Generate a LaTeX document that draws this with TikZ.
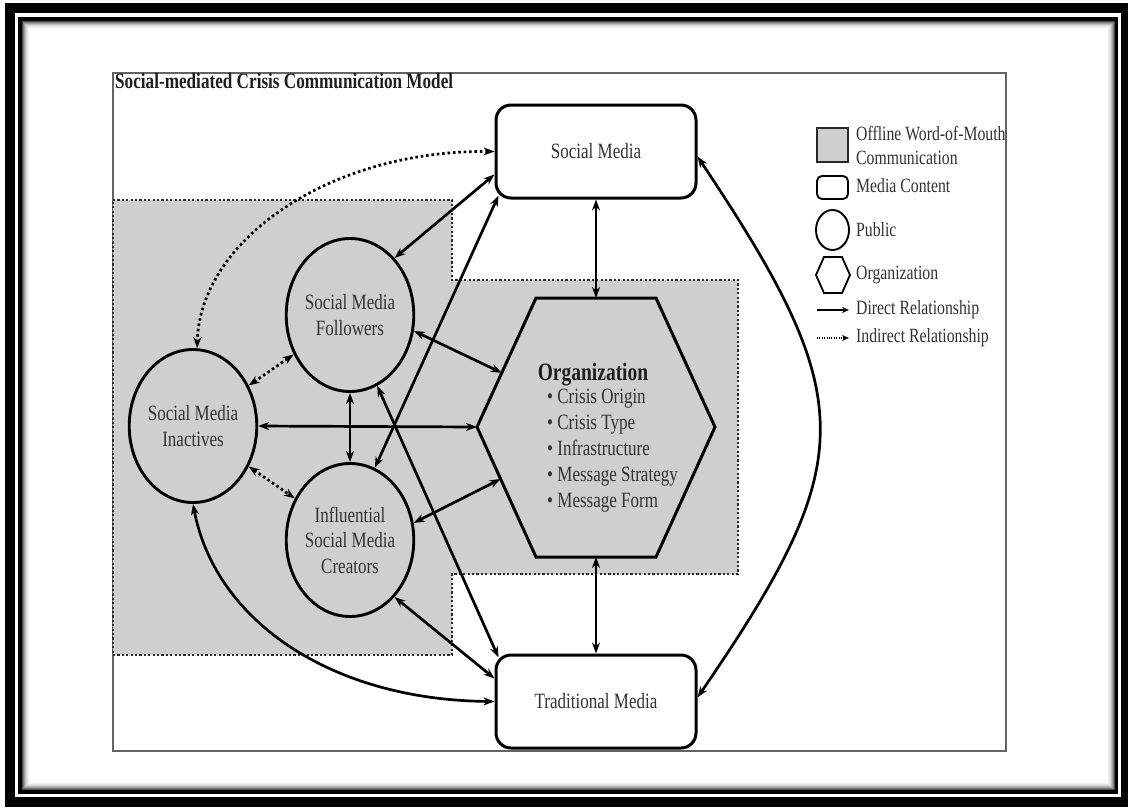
\documentclass[tikz,border=0pt]{standalone}
\usepackage{fontspec}
\setmainfont{Liberation Serif}[FakeStretch=0.78]
\usetikzlibrary{arrows.meta,calc,shapes.geometric}
\definecolor{offgray}{RGB}{207,207,207}
\definecolor{txt}{RGB}{50,50,50}
\definecolor{dark}{RGB}{30,30,30}
\definecolor{framegray}{RGB}{100,100,100}
\definecolor{dotgray}{RGB}{40,40,40}
\tikzset{
  mediabox/.style={draw, line width=3pt, rounded corners=15pt, minimum width=200pt,
    minimum height=93pt, fill=white, font=\fontsize{21.8}{25}\selectfont, text=txt},
  public/.style={draw, ellipse, line width=2.9pt, minimum width=122pt, minimum height=153pt,
    inner sep=0pt, align=center, font=\fontsize{21.8}{25.5}\selectfont, text=txt},
  rel/.style={line width=2.7pt, {Stealth[length=11pt,width=8pt]}-{Stealth[length=11pt,width=8pt]}},
  indirect/.style={rel, dash pattern=on 2.6pt off 2.8pt},
  legtext/.style={anchor=west, font=\fontsize{20.2}{24}\selectfont, text=txt, inner sep=0pt, align=left},
  bullet/.style={anchor=base west, font=\fontsize{21.8}{25}\selectfont, text=txt, inner sep=0pt},
}
\begin{document}
\begin{tikzpicture}[x=1pt,y=-1pt]
\useasboundingbox (0,0) rectangle (1128,807);
% outer frame
\fill[black] (5,3) rectangle (1128,807);
\fill[white] (15,13) rectangle (1121,797);
\fill[black] (18,17) rectangle (1118,794);
\foreach \i/\c in {0/70,1/52,2/38,3/26,4/17,5/10,6/5,7/2}
  \fill[black!\c] ({22+\i},{21+\i}) rectangle ({1115-\i},{790-\i});
\fill[white] (30,29) rectangle (1107,782);
% inner diagram box
\draw[framegray, line width=1.5pt] (113,73) rectangle (1006,751);
\node[anchor=base west, inner sep=0pt, font=\bfseries\fontsize{22}{26}\selectfont, text=dark] (title) at (115,88) {Social-mediated Crisis Communication Model};
% offline word-of-mouth region
\fill[offgray] (113,200) -- (452,200) -- (452,280) -- (738,280) -- (738,574) -- (452,574) -- (452,655) -- (113,655) -- cycle;
\draw[dotgray, line width=2.6pt, dash pattern=on 2.2pt off 2.2pt] (113,200) -- (452,200) -- (452,280) -- (738,280) -- (738,574) -- (452,574) -- (452,655) -- (113,655) -- cycle;
% media boxes
\node[mediabox] (SM) at (596,151.5) {Social Media};
\node[mediabox] (TM) at (596,701.5) {Traditional Media};
% publics
\node[public] (FOL) at (350,315) {Social Media\\Followers};
\node[public] (INA) at (193,426) {Social Media\\Inactives};
\node[public] (CRE) at (350,540) {Influential\\Social Media\\Creators};
% organization hexagon
\coordinate (orgW) at (477,427);
\coordinate (orgNW) at (536,298);
\coordinate (orgNE) at (656,298);
\coordinate (orgE) at (715,427);
\coordinate (orgSE) at (656,557);
\coordinate (orgSW) at (536,557);
\coordinate (orgN) at (596,298);
\coordinate (orgS) at (596,557);
\draw[line width=3pt, line join=miter] (orgW) -- (orgNW) -- (orgNE) -- (orgE) -- (orgSE) -- (orgSW) -- cycle;
\node[anchor=base, inner sep=0pt, font=\bfseries\fontsize{25}{28}\selectfont, text=dark] (orgtitle) at (593,380) {Organization};
\node[bullet] (b1) at (547,403) {• Crisis Origin};
\node[bullet] (b2) at (547,429) {• Crisis Type};
\node[bullet] (b3) at (547,455) {• Infrastructure};
\node[bullet] (b4) at (547,481) {• Message Strategy};
\node[bullet] (b5) at (547,507) {• Message Form};
\coordinate (orgA) at ($(orgW)!0.42!(orgNW)$);
\coordinate (orgB) at ($(orgW)!0.40!(orgSW)$);
% relationships
\draw[rel] (FOL.52) -- ($(SM.west)+(0,23)$);
\draw[rel] (CRE.71) -- ($(SM.south west)+(4,-4)$);
\draw[indirect] (SM.west) .. controls (330,150) and (200,240) .. (INA.87);
\draw[indirect] (INA.36) -- (FOL.-145);
\draw[indirect] (INA.-36) -- (CRE.143);
\draw[rel] (INA.east) -- (orgW);
\draw[rel] (FOL.south) -- (CRE.north);
\draw[rel] (FOL.-14) -- (orgA);
\draw[rel] (CRE.15) -- (orgB);
\draw[rel] (FOL.-69) -- ($(TM.north west)+(4,4)$);
\draw[rel] (CRE.-52) -- ($(TM.west)+(0,-23)$);
\draw[rel] (INA.south) .. controls (215,620) and (330,700) .. (TM.west);
\draw[rel] (SM.south) -- (orgN);
\draw[rel] (orgS) -- (TM.north);
\draw[rel] ($(SM.east)+(0,5)$) .. controls (860,400) and (860,460) .. ($(TM.east)+(0,-4)$);
% legend
\node[draw=dotgray, fill=offgray, line width=1.6pt, minimum width=31pt, minimum height=34pt, inner sep=0pt] (lgW) at (832.5,145) {};
\node[legtext] (lgWt) at (856,145) {Offline Word-of-Mouth\\Communication};
\node[draw, rounded corners=5pt, line width=1.9pt, minimum width=31pt, minimum height=23pt, inner sep=0pt] (lgM) at (832.5,187.5) {};
\node[legtext] (lgMt) at (856,186) {Media Content};
\node[draw, ellipse, line width=1.9pt, minimum width=33pt, minimum height=40pt, inner sep=0pt] (lgP) at (832.5,230) {};
\node[legtext] (lgPt) at (856,230) {Public};
\draw[line width=1.8pt] (816,275) -- (824,257) -- (842,257) -- (850,275) -- (842,293) -- (824,293) -- cycle;
\node[legtext] (lgOt) at (856,275) {Organization};
\coordinate (lgDa) at (817,310);
\coordinate (lgDb) at (849,310);
\draw[line width=1.6pt, -{Stealth[length=7pt,width=6pt]}] (lgDa) -- (lgDb);
\node[legtext] (lgDt) at (856,310) {Direct Relationship};
\coordinate (lgIa) at (817,338);
\coordinate (lgIb) at (849,338);
\draw[line width=1.3pt, dash pattern=on 1pt off 1.4pt, -{Stealth[length=7pt,width=6pt]}] (lgIa) -- (lgIb);
\node[legtext] (lgIt) at (856,338) {Indirect Relationship};
\end{tikzpicture}
\end{document}
